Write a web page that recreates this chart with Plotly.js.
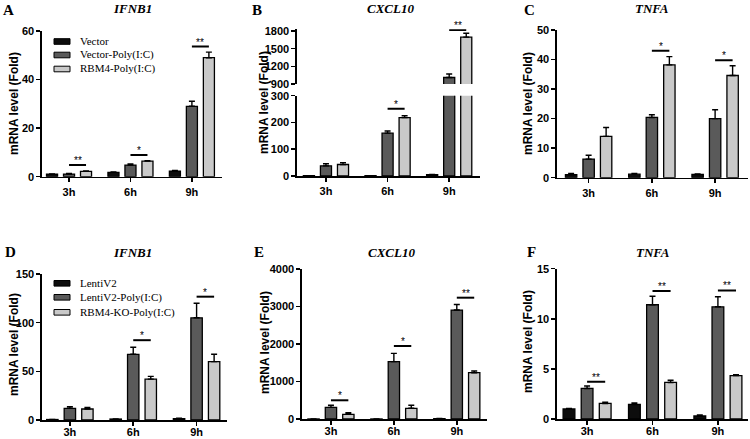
<!DOCTYPE html>
<html><head><meta charset="utf-8">
<script src="https://cdn.plot.ly/plotly-3.0.1.min.js"></script>
<style>html,body{margin:0;padding:0;background:#fff}#chart{width:750px;height:439px}</style>
</head><body><div id="chart"></div>
<script>
// ---------------- DATA ----------------
const timepoints = ['3h', '6h', '9h'];

// Top row (overexpression)
const seriesTop = ['Vector', 'Vector-Poly(I:C)', 'RBM4-Poly(I:C)'];
// A: IFNB1
const aVector = [1.0, 1.8, 2.3];
const aVectorErr = [0.1, 0.2, 0.3];
const aVectorPoly = [1.1, 4.8, 29.0];
const aVectorPolyErr = [0.2, 0.4, 2.1];
const aRBM4Poly = [2.2, 6.4, 49.0];
const aRBM4PolyErr = [0.2, 0.2, 2.3];
const aSigIdx = [0, 1, 2];
const aSigY = [4.8, 8.9, 53.6];
const aSigLab = ['**', '*', '**'];
// B: CXCL10 (broken axis)
const bVector = [1, 1, 5];
const bVectorErr = [0, 0, 1];
const bVectorPoly = [38, 160, 1010];
const bVectorPolyErr = [8, 8, 60];
const bRBM4Poly = [43, 218, 1695];
const bRBM4PolyErr = [7, 7, 65];
const bSigIdx = [1, 2];
const bSigY = [251, 1817];
const bSigLab = ['*', '**'];
// C: TNFA
const cVector = [1.0, 1.2, 1.1];
const cVectorErr = [0.4, 0.2, 0.2];
const cVectorPoly = [6.3, 20.4, 20.0];
const cVectorPolyErr = [1.3, 0.9, 3.0];
const cRBM4Poly = [14.0, 38.2, 34.6];
const cRBM4PolyErr = [3.0, 2.8, 3.3];
const cSigIdx = [1, 2];
const cSigY = [43, 39.8];
const cSigLab = ['*', '*'];

// Bottom row (knock-out)
const seriesBottom = ['LentiV2', 'LentiV2-Poly(I:C)', 'RBM4-KO-Poly(I:C)'];
// D: IFNB1
const dLentiV2 = [0.5, 1.0, 1.5];
const dLentiV2Err = [0.1, 0.2, 0.3];
const dLentiV2Poly = [12, 67.5, 105];
const dLentiV2PolyErr = [1.7, 7.2, 15];
const dKOPoly = [11.3, 42, 60];
const dKOPolyErr = [1.5, 2.8, 7.5];
const dSigIdx = [1, 2];
const dSigY = [82, 126.7];
const dSigLab = ['*', '*'];
// E: CXCL10
const eLentiV2 = [1, 1, 10];
const eLentiV2Err = [0, 0, 5];
const eLentiV2Poly = [310, 1530, 2905];
const eLentiV2PolyErr = [55, 220, 150];
const eKOPoly = [125, 285, 1235];
const eKOPolyErr = [40, 80, 45];
const eSigIdx = [0, 1, 2];
const eSigY = [499, 1947, 3235];
const eSigLab = ['*', '*', '**'];
// F: TNFA
const fLentiV2 = [1.0, 1.45, 0.3];
const fLentiV2Err = [0.05, 0.15, 0.1];
const fLentiV2Poly = [3.05, 11.4, 11.2];
const fLentiV2PolyErr = [0.25, 0.85, 1.0];
const fKOPoly = [1.55, 3.65, 4.33];
const fKOPolyErr = [0.12, 0.22, 0.1];
const fSigIdx = [0, 1, 2];
const fSigY = [3.73, 12.77, 12.83];
const fSigLab = ['**', '**', '**'];

const yTitle = 'mRNA level (Fold)';

// ---------------- STYLE / LAYOUT ----------------
const W = 750, H = 439;
const barColors = ['#0d0d0d', '#5a5a5a', '#c9c9c9'];
const SANS = 'Liberation Sans, Arial, sans-serif';
const SERIF = 'Liberation Serif, Times New Roman, serif';
const BARGAP = 0.17, BARGROUPGAP = 0.35;
const slot = (1 - BARGAP) / 3;

const panels = [
  {letter: 'A', gene: 'IFNB1', names: seriesTop,
   vals: [aVector, aVectorPoly, aRBM4Poly], errs: [aVectorErr, aVectorPolyErr, aRBM4PolyErr],
   sig: [aSigIdx, aSigY, aSigLab, [0, 0, 0]],
   xpx: [42, 222], xr: [-0.44, 2.49], standoff: 0,
   segs: [{top: 31, bottom: 176.7, range: [0, 60], ticks: [0, 20, 40, 60]}],
   letterPos: [8, 10], titlePos: [132, 9], ytPos: [14, 104], legend: [41.5, 55, 69]},
  {letter: 'B', gene: 'CXCL10', names: seriesTop,
   vals: [bVector, bVectorPoly, bRBM4Poly], errs: [bVectorErr, bVectorPolyErr, bRBM4PolyErr],
   sig: [bSigIdx, bSigY, bSigLab, [0, 1]],
   xpx: [297, 480], xr: [-0.47, 2.5], standoff: 0,
   segs: [{top: 95.7, bottom: 176, range: [0, 300], ticks: [0, 100, 200, 300]},
          {top: 29.2, bottom: 84, range: [900, 1830], ticks: [900, 1200, 1500, 1800]}],
   letterPos: [257, 10], titlePos: [390, 9], ytPos: [264, 103]},
  {letter: 'C', gene: 'TNFA', names: seriesTop,
   vals: [cVector, cVectorPoly, cRBM4Poly], errs: [cVectorErr, cVectorPolyErr, cRBM4PolyErr],
   sig: [cSigIdx, cSigY, cSigLab, [0, 0]],
   xpx: [557, 748], xr: [-0.5, 2.52], standoff: 0,
   segs: [{top: 30, bottom: 177.7, range: [0, 50], ticks: [0, 10, 20, 30, 40, 50]}],
   letterPos: [529, 10], titlePos: [652, 9], ytPos: [528, 104]},
  {letter: 'D', gene: 'IFNB1', names: seriesBottom,
   vals: [dLentiV2, dLentiV2Poly, dKOPoly], errs: [dLentiV2Err, dLentiV2PolyErr, dKOPolyErr],
   sig: [dSigIdx, dSigY, dSigLab, [0, 0]],
   xpx: [42, 227], xr: [-0.44, 2.48], standoff: -3,
   segs: [{top: 274, bottom: 420, range: [0, 150], ticks: [0, 50, 100, 150]}],
   letterPos: [10, 252], titlePos: [132, 252], ytPos: [14, 345], legend: [283.3, 297.3, 312.3]},
  {letter: 'E', gene: 'CXCL10', names: seriesBottom,
   vals: [eLentiV2, eLentiV2Poly, eKOPoly], errs: [eLentiV2Err, eLentiV2PolyErr, eKOPolyErr],
   sig: [eSigIdx, eSigY, eSigLab, [0, 0, 0]],
   xpx: [302, 487], xr: [-0.46, 2.48], standoff: -3,
   segs: [{top: 269, bottom: 419, range: [0, 4000], ticks: [0, 1000, 2000, 3000, 4000]}],
   letterPos: [259, 252], titlePos: [392, 252], ytPos: [265, 343]},
  {letter: 'F', gene: 'TNFA', names: seriesBottom,
   vals: [fLentiV2, fLentiV2Poly, fKOPoly], errs: [fLentiV2Err, fLentiV2PolyErr, fKOPolyErr],
   sig: [fSigIdx, fSigY, fSigLab, [0, 0, 0]],
   xpx: [557, 748], xr: [-0.46, 2.46], standoff: -3,
   segs: [{top: 268.7, bottom: 419, range: [0, 15], ticks: [0, 5, 10, 15]}],
   letterPos: [531, 252], titlePos: [653, 252], ytPos: [528, 342]}
];

const axisFont = {family: SANS, size: 11, color: '#000', weight: 'bold'};
const common = {showline: true, linecolor: '#000', linewidth: 1.6, ticks: 'outside', ticklen: 4,
  tickwidth: 1.5, tickcolor: '#000', showgrid: false, zeroline: false, tickfont: axisFont, fixedrange: true};

const traces = [], shapes = [], annotations = [];
const layout = {width: W, height: H, margin: {l: 0, r: 0, t: 0, b: 0}, paper_bgcolor: '#fff',
  plot_bgcolor: 'rgba(0,0,0,0)', barmode: 'group', bargap: BARGAP, bargroupgap: BARGROUPGAP,
  showlegend: false, font: {family: SANS, color: '#000'}};

const suf = n => (n === 1 ? '' : String(n));
let xn = 0, yn = 0;
panels.forEach(p => {
  xn += 1;
  const xid = 'x' + suf(xn);
  const firstY = yn + 1;
  const yids = p.segs.map((s, k) => 'y' + suf(firstY + k));
  layout['xaxis' + suf(xn)] = Object.assign({}, common, {
    type: 'category', categoryorder: 'array', categoryarray: timepoints,
    domain: [p.xpx[0] / W, p.xpx[1] / W], range: p.xr, anchor: yids[0],
    ticklabelstandoff: p.standoff});
  p.segs.forEach((s, k) => {
    yn += 1;
    layout['yaxis' + suf(yn)] = Object.assign({}, common, {
      domain: [1 - s.bottom / H, 1 - s.top / H], range: s.range,
      tickmode: 'array', tickvals: s.ticks, anchor: xid});
    p.vals.forEach((v, i) => {
      traces.push({type: 'bar', x: timepoints, y: v, name: p.names[i], xaxis: xid, yaxis: yids[k],
        marker: {color: barColors[i], line: {color: '#000', width: 1.3}},
        error_y: {type: 'data', array: p.errs[i], arrayminus: v.map(() => 0), symmetric: false,
          color: '#000', thickness: 1.4, width: 3},
        hoverinfo: 'skip', showlegend: false});
    });
  });
  // significance bars
  const [sIdx, sY, sLab, sSeg] = p.sig;
  sIdx.forEach((c, j) => {
    const yref = yids[sSeg[j]];
    shapes.push({type: 'line', xref: xid, yref: yref, x0: c, x1: c + slot, y0: sY[j], y1: sY[j],
      line: {color: '#000', width: 2}});
    annotations.push({xref: xid, yref: yref, x: c + slot / 2, y: sY[j], text: sLab[j], showarrow: false,
      yanchor: 'bottom', yshift: -3, font: {family: SANS, size: 10, color: '#000'}});
  });
  // panel letter, gene title, y title
  annotations.push({xref: 'paper', yref: 'paper', x: p.letterPos[0] / W, y: 1 - p.letterPos[1] / H,
    text: '<b>' + p.letter + '</b>', showarrow: false, xanchor: 'center', yanchor: 'middle',
    font: {family: SERIF, size: 15, color: '#000'}});
  annotations.push({xref: 'paper', yref: 'paper', x: p.titlePos[0] / W, y: 1 - p.titlePos[1] / H,
    text: '<b><i>' + p.gene + '</i></b>', showarrow: false, xanchor: 'center', yanchor: 'middle',
    font: {family: SERIF, size: 13, color: '#000'}});
  annotations.push({xref: 'paper', yref: 'paper', x: p.ytPos[0] / W, y: 1 - p.ytPos[1] / H,
    text: '<b>' + yTitle + '</b>', textangle: -90, showarrow: false, xanchor: 'center', yanchor: 'middle',
    font: {family: SANS, size: 12, color: '#000'}});
  // legend
  if (p.legend) {
    p.legend.forEach((ry, i) => {
      shapes.push({type: 'rect', xref: 'paper', yref: 'paper', x0: 54 / W, x1: 70 / W,
        y0: 1 - (ry + 2.8) / H, y1: 1 - (ry - 2.8) / H,
        fillcolor: barColors[i], line: {color: '#000', width: 1}});
      annotations.push({xref: 'paper', yref: 'paper', x: 78 / W, y: 1 - ry / H, text: p.names[i],
        showarrow: false, xanchor: 'left', yanchor: 'middle',
        font: {family: SERIF, size: 11, color: '#000'}});
    });
  }
});
layout.shapes = shapes;
layout.annotations = annotations;
Plotly.newPlot('chart', traces, layout, {displayModeBar: false, staticPlot: true});
</script></body></html>
